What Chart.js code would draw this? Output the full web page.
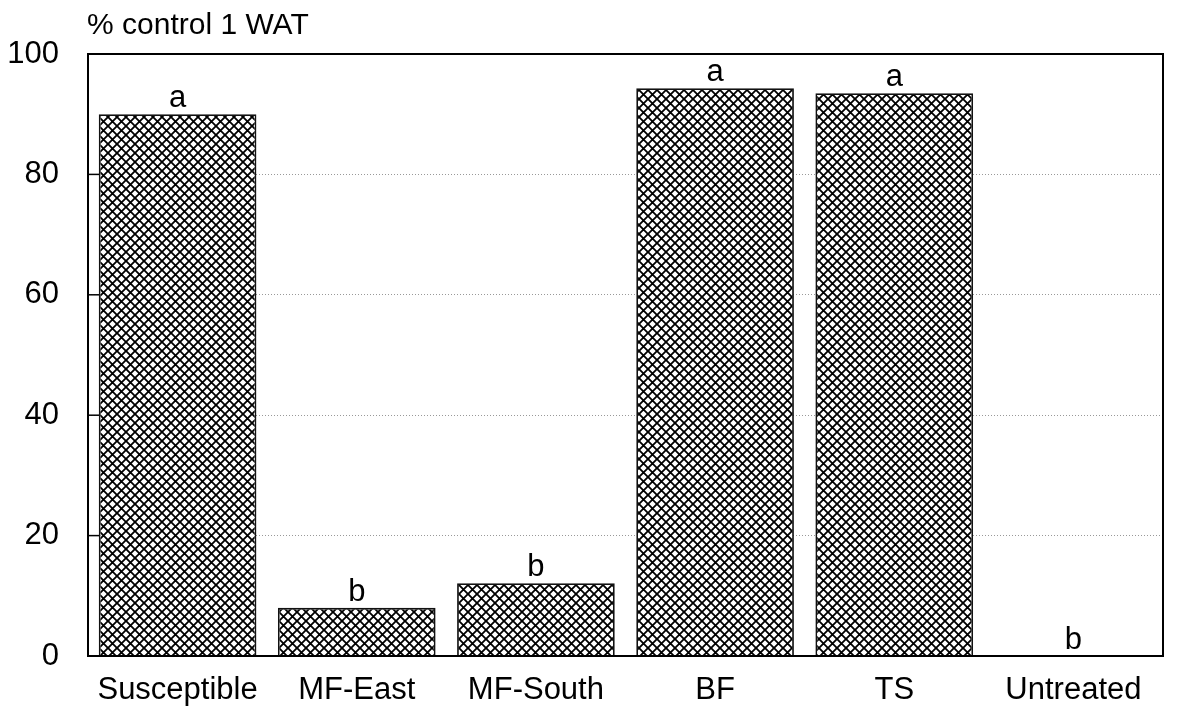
<!DOCTYPE html>
<html>
<head>
<meta charset="utf-8">
<script src="https://cdn.jsdelivr.net/npm/chart.js@4"></script>
<style>
  html, body { margin: 0; padding: 0; background: #fff; }
  #wrap { width: 1183px; height: 719px; }
</style>
</head>
<body>
<div id="wrap"><canvas id="c" width="1183" height="719"></canvas></div>
<script>
const categories = ['Susceptible', 'MF-East', 'MF-South', 'BF', 'TS', 'Untreated'];
const controlValues = [90.0, 8.0, 12.1, 94.3, 93.5, 0];
const letters = ['a', 'b', 'b', 'a', 'a', 'b'];
const yTicks = [0, 20, 40, 60, 80, 100];
const axisTitle = '% control 1 WAT';

const FONT = '"Liberation Sans", Arial, sans-serif';

function makeHatch() {
  const s = 9;
  const c = document.createElement('canvas');
  c.width = s; c.height = s;
  const g = c.getContext('2d');
  g.fillStyle = '#fff';
  g.fillRect(0, 0, s, s);
  g.strokeStyle = '#000';
  g.lineWidth = 1.8;
  g.beginPath();
  g.moveTo(-1, -1); g.lineTo(s + 1, s + 1);
  g.moveTo(s + 1, -1); g.lineTo(-1, s + 1);
  g.stroke();
  return g.createPattern(c, 'repeat');
}

const decor = {
  id: 'decor',
  afterDatasetsDraw(chart) {
    const ctx = chart.ctx;
    const a = chart.chartArea;
    const y = chart.scales.y;
    ctx.save();
    ctx.strokeStyle = '#000';
    ctx.lineWidth = 2;
    ctx.strokeRect(a.left, a.top, a.right - a.left, a.bottom - a.top);
    ctx.lineWidth = 1.5;
    yTicks.forEach(v => {
      const py = y.getPixelForValue(v);
      ctx.beginPath();
      ctx.moveTo(a.left, py);
      ctx.lineTo(a.left + 11, py);
      ctx.stroke();
    });
    ctx.fillStyle = '#000';
    ctx.font = '31px ' + FONT;
    ctx.textAlign = 'center';
    ctx.textBaseline = 'alphabetic';
    const meta = chart.getDatasetMeta(0);
    letters.forEach((t, i) => {
      const el = meta.data[i];
      ctx.fillText(t, el.x, el.y - 7);
    });
    ctx.textAlign = 'left';
    ctx.font = '30px ' + FONT;
    ctx.fillText(axisTitle, a.left - 1, 34);
    ctx.restore();
  }
};

new Chart(document.getElementById('c'), {
  type: 'bar',
  data: {
    labels: categories,
    datasets: [{
      data: controlValues,
      backgroundColor: makeHatch(),
      borderColor: '#111',
      borderWidth: 1.8,
      barPercentage: 0.88,
      categoryPercentage: 1.0
    }]
  },
  options: {
    responsive: false,
    animation: false,
    devicePixelRatio: 1,
    layout: { padding: { top: 54, right: 20, bottom: 0, left: 0 } },
    plugins: {
      legend: { display: false },
      tooltip: { enabled: false },
      title: { display: false }
    },
    scales: {
      x: {
        grid: { display: false, drawTicks: false },
        border: { display: false },
        ticks: {
          color: '#000',
          font: { size: 31, family: FONT },
          padding: 16,
          maxRotation: 0
        },
        afterFit(s) { s.height = 63; }
      },
      y: {
        min: 0,
        max: 100,
        afterBuildTicks(s) { s.ticks = yTicks.map(v => ({ value: v })); },
        grid: {
          drawTicks: false,
          color: ctx => (ctx.tick && (ctx.tick.value === 0 || ctx.tick.value === 100)) ? 'rgba(0,0,0,0)' : '#999',
          lineWidth: 1
        },
        border: { display: false, dash: [1, 2] },
        ticks: {
          color: '#000',
          font: { size: 31, family: FONT },
          padding: 29
        },
        afterFit(s) { s.width = 88; }
      }
    }
  },
  plugins: [decor]
});
</script>
</body>
</html>
